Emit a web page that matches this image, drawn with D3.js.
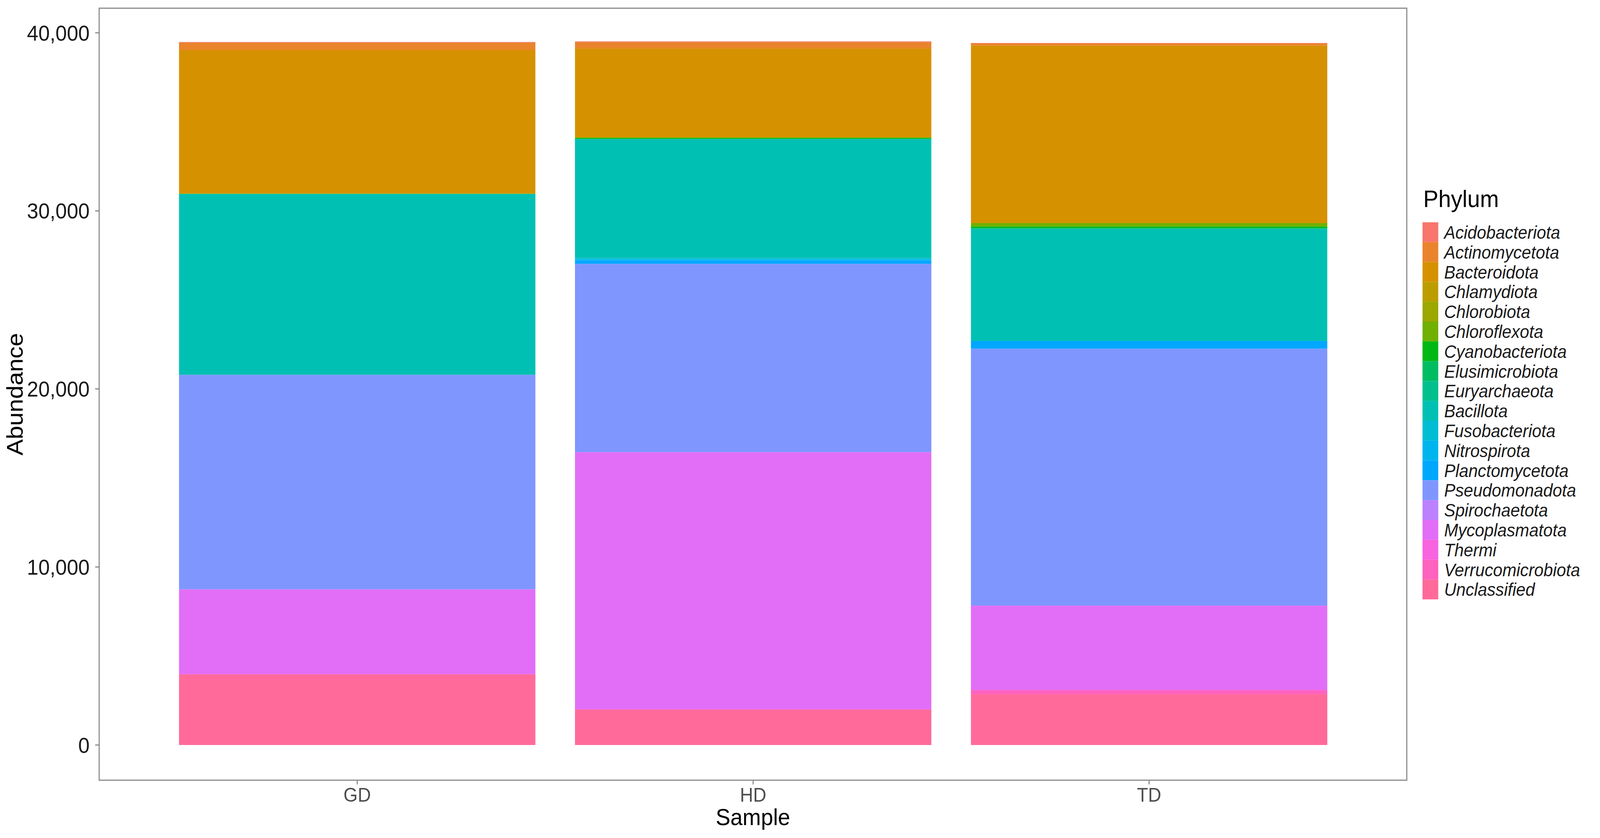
<!DOCTYPE html>
<html><head><meta charset="utf-8">
<script src="https://cdn.jsdelivr.net/npm/d3@7"></script>
<style>html,body{margin:0;padding:0;background:#fff;overflow:hidden}svg{display:block;width:100vw;height:100vh}</style></head>
<body><svg id="c" viewBox="0 0 4372 2145" preserveAspectRatio="none"></svg>
<script>
const samples = ["GD","HD","TD"];
const phyla = ["Acidobacteriota","Actinomycetota","Bacteroidota","Chlamydiota","Chlorobiota","Chloroflexota","Cyanobacteriota","Elusimicrobiota","Euryarchaeota","Bacillota","Fusobacteriota","Nitrospirota","Planctomycetota","Pseudomonadota","Spirochaetota","Mycoplasmatota","Thermi","Verrucomicrobiota","Unclassified"];
// values per phylum in order GD, HD, TD
const GD = [30,420,8050,0,30,0,0,0,0,10160,0,0,0,12050,0,4770,0,0,3975];
const HD = [40,360,4980,0,40,0,60,0,0,6690,60,70,190,10580,0,14450,0,0,2000];
const TD = [20,125,9970,0,0,190,75,50,0,6310,0,0,430,14430,0,4740,0,240,2850];
const yTicks = [0,10000,20000,30000,40000];

// R-style hcl() (polar CIELUV) to hex
function hclR(h,c,l){
  const Xn=95.047,Yn=100,Zn=108.883;
  const un=4*Xn/(Xn+15*Yn+3*Zn), vn=9*Yn/(Xn+15*Yn+3*Zn);
  const hr=h*Math.PI/180, u=c*Math.cos(hr), v=c*Math.sin(hr);
  const Y=Yn*Math.pow((l+16)/116,3);
  const up=u/(13*l)+un, vp=v/(13*l)+vn;
  const X=Y*9*up/(4*vp), Z=Y*(12-3*up-20*vp)/(4*vp);
  const x=X/100,y=Y/100,z=Z/100;
  let r=3.2404542*x-1.5371385*y-0.4985314*z;
  let g=-0.9692660*x+1.8760108*y+0.0415560*z;
  let b=0.0556434*x-0.2040259*y+1.0572252*z;
  const gam=t=>{t=Math.max(0,Math.min(1,t));return t<=0.0031308?12.92*t:1.055*Math.pow(t,1/2.4)-0.055;};
  return d3.rgb(gam(r)*255,gam(g)*255,gam(b)*255).formatHex();
}

const svg = d3.select("#c");
const colors = phyla.map((p,i)=>hclR(15+i*360/19,100,65));
const color = d3.scaleOrdinal(phyla, colors);
const x = d3.scaleBand(samples,[381,3735]).padding(0.1);
const y = d3.scaleLinear([0,40000],[1907,84]);
const panel = {l:271,r:3844,t:21,b:1997};

const table = samples.map((s,si)=>{const o={sample:s};const arr=[GD,HD,TD][si];phyla.forEach((p,i)=>o[p]=arr[i]);return o;});
const stack = d3.stack().keys(phyla.slice().reverse())(table);

svg.append("rect").attr("x",panel.l).attr("y",panel.t).attr("width",panel.r-panel.l).attr("height",panel.b-panel.t).attr("fill","#fff");
svg.append("g").selectAll("g").data(stack).join("g").attr("fill",d=>color(d.key))
 .selectAll("rect").data(d=>d).join("rect")
 .attr("x",d=>x(d.data.sample)).attr("width",x.bandwidth())
 .attr("y",d=>y(d[1])).attr("height",d=>y(d[0])-y(d[1]));
svg.append("rect").attr("x",panel.l).attr("y",panel.t).attr("width",panel.r-panel.l).attr("height",panel.b-panel.t).attr("fill","none").attr("stroke","#8a8a8a").attr("stroke-width",3);

const ff="Liberation Sans, Arial, sans-serif";
const yg=svg.append("g");
yTicks.forEach(t=>{
 yg.append("line").attr("x1",260).attr("x2",271).attr("y1",y(t)).attr("y2",y(t)).attr("stroke","#8a8a8a").attr("stroke-width",3);
 yg.append("text").attr("x",245).attr("y",y(t)).attr("dy","0.35em").attr("text-anchor","end").attr("font-family",ff).attr("font-size",56).attr("fill","#1a1a1a").text(d3.format(",")(t));
});
samples.forEach(s=>{
 const cx=x(s)+x.bandwidth()/2;
 svg.append("line").attr("x1",cx).attr("x2",cx).attr("y1",panel.b).attr("y2",panel.b+11).attr("stroke","#8a8a8a").attr("stroke-width",3);
 svg.append("text").attr("x",cx).attr("y",2052).attr("text-anchor","middle").attr("font-family",ff).attr("font-size",50).attr("fill","#4d4d4d").text(s);
});
svg.append("text").attr("x",(panel.l+panel.r)/2).attr("y",2112).attr("text-anchor","middle").attr("font-family",ff).attr("font-size",60).attr("fill","#000").text("Sample");
svg.append("text").attr("transform","translate(62,"+((panel.t+panel.b)/2)+") rotate(-90)").attr("text-anchor","middle").attr("font-family",ff).attr("font-size",62).attr("fill","#000").text("Abundance");

const lg=svg.append("g");
lg.append("text").attr("x",3889).attr("y",530).attr("font-family",ff).attr("font-size",62).text("Phylum");
const kh=50.8;
phyla.forEach((p,i)=>{
 lg.append("rect").attr("x",3887).attr("y",569+i*kh).attr("width",43).attr("height",kh).attr("fill",color(p));
 lg.append("text").attr("x",3946).attr("y",569+i*kh+kh/2).attr("dy","0.36em").attr("font-family",ff).attr("font-style","italic").attr("font-size",46).attr("fill","#1a1a1a").text(p);
});
</script></body></html>
